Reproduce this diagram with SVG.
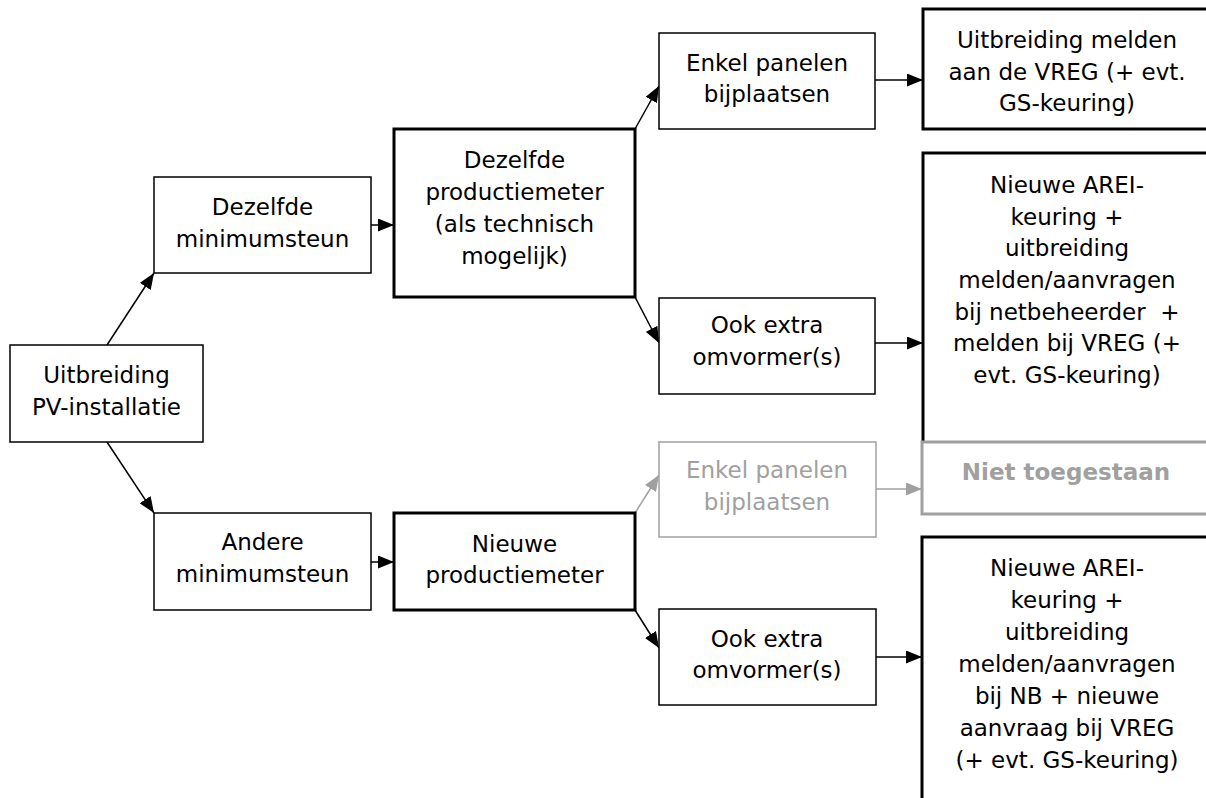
<svg xmlns="http://www.w3.org/2000/svg" width="1206" height="798" viewBox="0 0 1206 798">
<style>
  .box{fill:#fff;stroke:#000;stroke-width:1.5}
  .thick{fill:#fff;stroke:#000;stroke-width:3}
  .gbox{fill:#fff;stroke:#a0a0a0;stroke-width:1.5}
  .gthick{fill:#fff;stroke:#a0a0a0;stroke-width:3}
  text{font-family:"DejaVu Sans","Verdana",sans-serif;font-size:23px;fill:#000;text-anchor:middle}
  .gt{fill:#a0a0a0}
  .bold{font-weight:bold}
  .c{stroke:#000;stroke-width:1.5;fill:none}
  .cg{stroke:#a0a0a0;stroke-width:1.5;fill:none}
</style>
<defs>
  <marker id="ah" markerUnits="userSpaceOnUse" markerWidth="16" markerHeight="13" refX="16" refY="6.5" orient="auto">
    <path d="M0,0 L16,6.5 L0,13 Z" fill="#000"/>
  </marker>
  <marker id="ahg" markerUnits="userSpaceOnUse" markerWidth="16" markerHeight="13" refX="16" refY="6.5" orient="auto">
    <path d="M0,0 L16,6.5 L0,13 Z" fill="#a0a0a0"/>
  </marker>
</defs>
<rect width="1206" height="798" fill="#fff"/>

<g id="connectors">
  <line class="c" x1="107" y1="345" x2="154" y2="273" marker-end="url(#ah)"/>
  <line class="c" x1="107" y1="442" x2="154" y2="513" marker-end="url(#ah)"/>
  <line class="c" x1="371" y1="225" x2="394" y2="225" marker-end="url(#ah)"/>
  <line class="c" x1="371" y1="562" x2="394" y2="562" marker-end="url(#ah)"/>
  <line class="c" x1="635" y1="129" x2="659" y2="86" marker-end="url(#ah)"/>
  <line class="c" x1="635" y1="297" x2="659" y2="343" marker-end="url(#ah)"/>
  <line class="c" x1="875" y1="80" x2="923" y2="80" marker-end="url(#ah)"/>
  <line class="c" x1="875" y1="343" x2="923" y2="343" marker-end="url(#ah)"/>
  <line class="cg" x1="635" y1="513" x2="659" y2="475" marker-end="url(#ahg)"/>
  <line class="cg" x1="876" y1="489" x2="922" y2="489" marker-end="url(#ahg)"/>
  <line class="c" x1="635" y1="610" x2="659" y2="648" marker-end="url(#ah)"/>
  <line class="c" x1="876" y1="657" x2="922" y2="657" marker-end="url(#ah)"/>
</g>

<g id="n-uitbreiding">
  <rect class="box" x="10" y="345" width="193" height="97"/>
  <text><tspan x="106.5" y="383">Uitbreiding</tspan><tspan x="106.5" y="415">PV-installatie</tspan></text>
</g>

<g id="n-dezelfde-min">
  <rect class="box" x="154" y="177" width="217" height="96"/>
  <text><tspan x="262.5" y="215">Dezelfde</tspan><tspan x="262.5" y="247">minimumsteun</tspan></text>
</g>

<g id="n-andere-min">
  <rect class="box" x="154" y="513" width="217" height="97"/>
  <text><tspan x="262.5" y="550">Andere</tspan><tspan x="262.5" y="582">minimumsteun</tspan></text>
</g>

<g id="n-dezelfde-prod">
  <rect class="thick" x="394" y="129" width="241" height="168"/>
  <text><tspan x="514.5" y="168">Dezelfde</tspan><tspan x="514.5" y="200">productiemeter</tspan><tspan x="514.5" y="232">(als technisch</tspan><tspan x="514.5" y="264">mogelijk)</tspan></text>
</g>

<g id="n-nieuwe-prod">
  <rect class="thick" x="394" y="513" width="241" height="97"/>
  <text><tspan x="514.5" y="552">Nieuwe</tspan><tspan x="514.5" y="583">productiemeter</tspan></text>
</g>

<g id="n-enkel-top">
  <rect class="box" x="659" y="33" width="216" height="96"/>
  <text><tspan x="767" y="71">Enkel panelen</tspan><tspan x="767" y="102">bijplaatsen</tspan></text>
</g>

<g id="n-ook-top">
  <rect class="box" x="659" y="298" width="216" height="96"/>
  <text><tspan x="767" y="333">Ook extra</tspan><tspan x="767" y="365">omvormer(s)</tspan></text>
</g>

<g id="n-enkel-bottom">
  <rect class="gbox" x="659" y="442" width="217" height="95"/>
  <text class="gt"><tspan x="767" y="478">Enkel panelen</tspan><tspan x="767" y="510">bijplaatsen</tspan></text>
</g>

<g id="n-ook-bottom">
  <rect class="box" x="659" y="609" width="217" height="96"/>
  <text><tspan x="767" y="647">Ook extra</tspan><tspan x="767" y="678">omvormer(s)</tspan></text>
</g>

<g id="n-melden-vreg">
  <rect class="thick" x="923" y="9" width="300" height="120"/>
  <text><tspan x="1067" y="48">Uitbreiding melden</tspan><tspan x="1067" y="80">aan de VREG (+ evt.</tspan><tspan x="1067" y="111">GS-keuring)</tspan></text>
</g>

<g id="n-arei-top">
  <rect class="thick" x="923" y="153" width="300" height="290"/>
  <text xml:space="preserve"><tspan x="1067" y="193">Nieuwe AREI-</tspan><tspan x="1067" y="225">keuring +</tspan><tspan x="1067" y="256">uitbreiding</tspan><tspan x="1067" y="288">melden/aanvragen</tspan><tspan x="1067" y="320">bij netbeheerder  +</tspan><tspan x="1067" y="351">melden bij VREG (+</tspan><tspan x="1067" y="383">evt. GS-keuring)</tspan></text>
</g>

<g id="n-niet-toegestaan">
  <rect class="gthick" x="922" y="442" width="300" height="72"/>
  <text class="gt bold" x="1066" y="480">Niet toegestaan</text>
</g>

<g id="n-arei-bottom">
  <rect class="thick" x="922" y="537" width="300" height="300"/>
  <text><tspan x="1067" y="576">Nieuwe AREI-</tspan><tspan x="1067" y="608">keuring +</tspan><tspan x="1067" y="640">uitbreiding</tspan><tspan x="1067" y="672">melden/aanvragen</tspan><tspan x="1067" y="704">bij NB + nieuwe</tspan><tspan x="1067" y="736">aanvraag bij VREG</tspan><tspan x="1067" y="768">(+ evt. GS-keuring)</tspan></text>
</g>
</svg>
